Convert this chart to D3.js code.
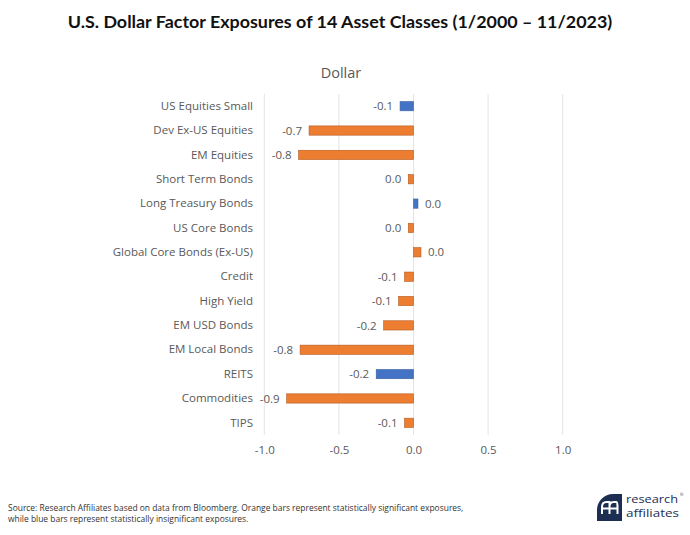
<!DOCTYPE html>
<html>
<head>
<meta charset="utf-8">
<script src="https://cdn.jsdelivr.net/npm/d3@7"></script>
<style>
  html, body { margin: 0; padding: 0; background: #fff; }
  svg { display: block; font-family: "Open Sans", "Noto Sans", sans-serif; }
</style>
</head>
<body>
<svg id="chart" width="690" height="535"></svg>
<script>
const categories = [
  "US Equities Small", "Dev Ex-US Equities", "EM Equities", "Short Term Bonds",
  "Long Treasury Bonds", "US Core Bonds", "Global Core Bonds (Ex-US)", "Credit",
  "High Yield", "EM USD Bonds", "EM Local Bonds", "REITS", "Commodities", "TIPS"
];
const values = [-0.09, -0.70, -0.77, -0.035, 0.03, -0.035, 0.05, -0.06, -0.10, -0.20, -0.76, -0.25, -0.85, -0.06];
const valueLabels = ["-0.1", "-0.7", "-0.8", "0.0", "0.0", "0.0", "0.0", "-0.1", "-0.1", "-0.2", "-0.8", "-0.2", "-0.9", "-0.1"];
const significant = [false, true, true, true, false, true, true, true, true, true, true, false, true, true];
const xTicks = [-1.0, -0.5, 0.0, 0.5, 1.0];

const svg = d3.select("#chart");
const orange = "#ED7D31", blue = "#4472C4";

svg.append("text")
  .attr("x", 340).attr("y", 28)
  .attr("text-anchor", "middle")
  .attr("font-family", "Lato, 'Open Sans', sans-serif")
  .attr("font-weight", 700).attr("font-size", 17.9).attr("fill", "#111")
  .text("U.S. Dollar Factor Exposures of 14 Asset Classes (1/2000 – 11/2023)");

svg.append("text")
  .attr("x", 341).attr("y", 78)
  .attr("text-anchor", "middle")
  .attr("font-size", 14.5).attr("fill", "#595959")
  .text("Dollar");

const x = d3.scaleLinear().domain([-1, 1]).range([264.3, 562.7]);
const y = d3.scaleBand().domain(categories).range([94, 435]).paddingInner(0.62).paddingOuter(0.31);

// gridlines
svg.append("g").selectAll("line").data(xTicks).join("line")
  .attr("x1", d => x(d)).attr("x2", d => x(d))
  .attr("y1", 94).attr("y2", 435)
  .attr("stroke", "#e4e4e4").attr("stroke-width", 1);

// x axis labels (hyphen-minus as in the source)
const fmt = d3.format(".1f");
const xAxis = d3.axisBottom(x).tickValues(xTicks)
  .tickFormat(d => fmt(d).replace("\u2212", "-")).tickSize(0).tickPadding(0);
const gx = svg.append("g").attr("transform", "translate(0,446)").call(xAxis);
gx.select(".domain").remove();
gx.selectAll("text").attr("font-size", 11.5).attr("fill", "#595959")
  .attr("font-family", "'Open Sans', sans-serif").attr("dy", "0.71em");

// category labels
const yAxis = d3.axisLeft(y).tickSize(0).tickPadding(0);
const gy = svg.append("g").attr("transform", "translate(253,0)").call(yAxis);
gy.select(".domain").remove();
gy.selectAll("text").attr("font-size", 11.5).attr("fill", "#595959")
  .attr("font-family", "'Open Sans', sans-serif");

const rows = categories.map((c, i) => ({ c, v: values[i], lab: valueLabels[i], sig: significant[i] }));

// bars
svg.append("g").selectAll("rect").data(rows).join("rect")
  .attr("x", d => x(Math.min(0, d.v)))
  .attr("width", d => Math.abs(x(d.v) - x(0)))
  .attr("y", d => y(d.c))
  .attr("height", y.bandwidth())
  .attr("fill", d => d.sig ? orange : blue)
  .attr("stroke", d => d.sig ? "#b45a1e" : "#3a62a8")
  .attr("stroke-width", 0.6);

// value labels
svg.append("g").selectAll("text").data(rows).join("text")
  .attr("x", d => d.v < 0 ? x(d.v) - 7 : x(d.v) + 7)
  .attr("y", d => y(d.c) + y.bandwidth() / 2)
  .attr("dy", "0.36em")
  .attr("text-anchor", d => d.v < 0 ? "end" : "start")
  .attr("font-size", 11.5).attr("fill", "#595959")
  .text(d => d.lab);

// footer
const foot = svg.append("text").attr("font-size", 8.45).attr("fill", "#333")
  .attr("font-family", "'Open Sans', sans-serif");
foot.append("tspan").attr("x", 8).attr("y", 511)
  .text("Source: Research Affiliates based on data from Bloomberg. Orange bars represent statistically significant exposures,");
foot.append("tspan").attr("x", 8).attr("y", 522)
  .text("while blue bars represent statistically insignificant exposures.");

// logo
const navy = "#1c2f52";
const lg = svg.append("g");
lg.append("path")
  .attr("d", "M597,521 L597,510 A16,16 0 0 1 613,494 L622,494 L622,521 Z")
  .attr("fill", navy);
lg.append("path")
  .attr("d", "M602,514 L602,507 Q602,502 606.5,502 L609.5,502 L609.5,514 M603,508.5 L609.5,508.5 M609.5,514 L609.5,507 Q609.5,502 613.5,502 L616.5,502 Q617.5,502 617.5,507 L617.5,514 M609.5,508.5 L617.5,508.5")
  .attr("fill", "none").attr("stroke", "#fff").attr("stroke-width", 2);
lg.append("text").attr("x", 626).attr("y", 502.5).attr("font-size", 11.5)
  .attr("fill", navy).attr("font-family", "'Open Sans', sans-serif")
  .attr("textLength", 52).attr("lengthAdjust", "spacingAndGlyphs")
  .text("research");
lg.append("text").attr("x", 680).attr("y", 496).attr("font-size", 4)
  .attr("fill", navy).text("®");
lg.append("text").attr("x", 626).attr("y", 517).attr("font-size", 11.5)
  .attr("fill", navy).attr("font-family", "'Open Sans', sans-serif")
  .attr("textLength", 53).attr("lengthAdjust", "spacingAndGlyphs")
  .text("affiliates");
</script>
</body>
</html>
